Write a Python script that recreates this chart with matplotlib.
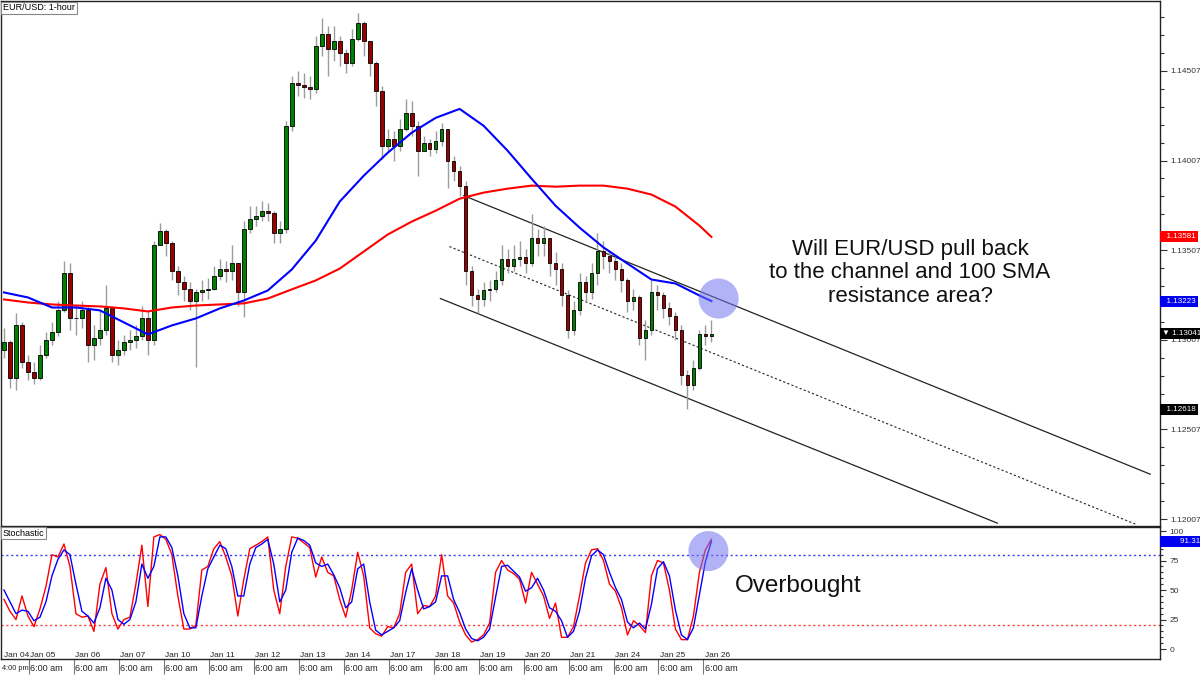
import numpy as np
import matplotlib
matplotlib.use("Agg")
import matplotlib.pyplot as plt
from matplotlib.ticker import FixedLocator, NullFormatter
from matplotlib.transforms import blended_transform_factory

plt.rcParams['font.family'] = ['Liberation Sans', 'DejaVu Sans']

# --- EUR/USD candles (3-hour buckets) ---
first_open = 1.12948
closes = [
    1.12992, 1.12792, 1.13087, 1.12881, 1.12825, 1.12792, 1.12920, 1.13004, 1.13048, 1.13171,
    1.13382, 1.13126, 1.13126, 1.13171, 1.12976, 1.13015, 1.13059, 1.13182, 1.12920, 1.12948,
    1.12992, 1.13004, 1.13026, 1.13126, 1.13004, 1.13533, 1.13616, 1.13549, 1.13393, 1.13327,
    1.13293, 1.13226, 1.13271, 1.13282, 1.13293, 1.13365, 1.13404, 1.13393, 1.13438, 1.13271,
    1.13627, 1.13683, 1.13700, 1.13727, 1.13716, 1.13605, 1.13627, 1.14201, 1.14440, 1.14429,
    1.14418, 1.14407, 1.14646, 1.14713, 1.14630, 1.14674, 1.14607, 1.14552, 1.14685, 1.14774,
    1.14674, 1.14552, 1.14396, 1.14089, 1.14128, 1.14089, 1.14184, 1.14273, 1.14201, 1.14062,
    1.14106, 1.14073, 1.14117, 1.14184, 1.14006, 1.13950, 1.13867, 1.13393, 1.13254, 1.13237,
    1.13282, 1.13293, 1.13338, 1.13460, 1.13421, 1.13460, 1.13471, 1.13438, 1.13572, 1.13549,
    1.13572, 1.13438, 1.13404, 1.13254, 1.13059, 1.13171, 1.13327, 1.13271, 1.13382, 1.13505,
    1.13477, 1.13449, 1.13404, 1.13338, 1.13226, 1.13243, 1.13015, 1.13059, 1.13271, 1.13254,
    1.13182, 1.13137, 1.13059, 1.12809, 1.12753, 1.12847, 1.13037, 1.13026, 1.13041,
]
highs = [
    1.13070, 1.13004, 1.13154, 1.13104, 1.12920, 1.12881, 1.12976, 1.13048, 1.13104, 1.13226,
    1.13449, 1.13438, 1.13198, 1.13226, 1.13198, 1.13087, 1.13171, 1.13310, 1.13198, 1.13004,
    1.13031, 1.13059, 1.13087, 1.13198, 1.13171, 1.13560, 1.13661, 1.13627, 1.13560, 1.13421,
    1.13365, 1.13327, 1.13293, 1.13338, 1.13349, 1.13421, 1.13460, 1.13449, 1.13533, 1.13421,
    1.13672, 1.13755, 1.13755, 1.13783, 1.13772, 1.13727, 1.13672, 1.14229, 1.14479, 1.14507,
    1.14496, 1.14479, 1.14702, 1.14802, 1.14758, 1.14758, 1.14702, 1.14630, 1.14741, 1.14830,
    1.14785, 1.14646, 1.14563, 1.14423, 1.14184, 1.14173, 1.14240, 1.14351, 1.14340, 1.14229,
    1.14145, 1.14128, 1.14173, 1.14217, 1.14145, 1.14034, 1.13978, 1.13894, 1.13421, 1.13293,
    1.13327, 1.13338, 1.13393, 1.13533, 1.13516, 1.13533, 1.13560, 1.13516, 1.13711, 1.13627,
    1.13644, 1.13560, 1.13494, 1.13438, 1.13282, 1.13226, 1.13382, 1.13365, 1.13438, 1.13605,
    1.13560, 1.13505, 1.13477, 1.13438, 1.13349, 1.13293, 1.13254, 1.13115, 1.13338, 1.13310,
    1.13271, 1.13215, 1.13160, 1.13087, 1.12836, 1.12892, 1.13059, 1.13087, 1.13115,
]
lows = [
    1.12903, 1.12736, 1.12725, 1.12847, 1.12781, 1.12758, 1.12781, 1.12903, 1.12976, 1.13026,
    1.13160, 1.13059, 1.13031, 1.13070, 1.12881, 1.12892, 1.12976, 1.13031, 1.12881, 1.12864,
    1.12920, 1.12948, 1.12959, 1.13004, 1.12920, 1.12976, 1.13533, 1.13477, 1.13338, 1.13254,
    1.13226, 1.13171, 1.12853, 1.13226, 1.13237, 1.13282, 1.13338, 1.13327, 1.13338, 1.13198,
    1.13132, 1.13605, 1.13644, 1.13672, 1.13672, 1.13549, 1.13549, 1.13605, 1.14173, 1.14368,
    1.14357, 1.14351, 1.14384, 1.14591, 1.14479, 1.14563, 1.14535, 1.14496, 1.14535, 1.14674,
    1.14591, 1.14479, 1.14312, 1.14017, 1.14062, 1.14006, 1.14062, 1.14173, 1.14145, 1.13922,
    1.14062, 1.14034, 1.14050, 1.14089, 1.13856, 1.13894, 1.13811, 1.13310, 1.13198, 1.13154,
    1.13198, 1.13226, 1.13271, 1.13310, 1.13382, 1.13393, 1.13421, 1.13382, 1.13421, 1.13477,
    1.13477, 1.13365, 1.13310, 1.13198, 1.13015, 1.13031, 1.13143, 1.13226, 1.13237, 1.13310,
    1.13404, 1.13382, 1.13338, 1.13271, 1.13160, 1.13171, 1.12976, 1.12892, 1.13031, 1.13171,
    1.13126, 1.13087, 1.13004, 1.12753, 1.12618, 1.12725, 1.12836, 1.12976, 1.12992,
]

# moving averages, sampled every 4 candles (last point = current value)
sma_bars = [0, 4, 8, 12, 16, 20, 24, 28, 32, 36, 40, 44, 48, 52, 56, 60, 64, 68, 72, 76,
            80, 84, 88, 92, 96, 100, 104, 108, 112, 116, 118]
sma100 = [1.13271, 1.13243, 1.13187, 1.13187, 1.13171, 1.13104, 1.13037, 1.13087, 1.13126, 1.13182,
          1.13226, 1.13282, 1.13399, 1.13560, 1.13778, 1.13922, 1.14050, 1.14162, 1.14245, 1.14295,
          1.14201, 1.14062, 1.13906, 1.13755, 1.13633, 1.13522, 1.13432, 1.13343, 1.13321, 1.13254,
          1.13223]
sma200 = [1.13232, 1.13215, 1.13204, 1.13198, 1.13193, 1.13182, 1.13165, 1.13187, 1.13198, 1.13204,
          1.13210, 1.13237, 1.13288, 1.13338, 1.13404, 1.13499, 1.13594, 1.13666, 1.13727, 1.13794,
          1.13828, 1.13850, 1.13867, 1.13861, 1.13867, 1.13867, 1.13850, 1.13817, 1.13750, 1.13644,
          1.13581]

# descending channel anchors (candle index, price)
channel_upper = [(76.7, 1.13811), (191.2, 1.12257)]
channel_mid = [(74.3, 1.13527), (188.7, 1.11979)]
channel_lower = [(72.8, 1.13237), (165.7, 1.11984)]

# stochastic oscillator
stoch_red = [
    42, 32, 25, 45, 28, 19, 34, 53, 80, 78, 89, 70, 30, 27, 28, 15, 55, 69, 30, 17,
    25, 27, 55, 88, 36, 95, 97, 93, 80, 45, 17, 17, 20, 67, 70, 85, 91, 78, 62, 28,
    59, 85, 88, 91, 95, 50, 30, 70, 95, 94, 90, 86, 61, 78, 65, 62, 42, 27, 50, 82,
    62, 18, 13, 11, 19, 18, 30, 65, 72, 30, 37, 36, 45, 80, 45, 39, 23, 12, 6, 8,
    12, 22, 65, 75, 67, 64, 59, 39, 65, 55, 45, 26, 39, 10, 10, 19, 45, 73, 84, 85,
    75, 55, 49, 35, 12, 24, 20, 14, 62, 75, 73, 50, 17, 8, 8, 28, 65, 84, 93,
]
stoch_blue = [
    50, 40, 30, 33, 32, 24, 27, 40, 62, 76, 84, 80, 55, 32, 28, 22, 35, 60, 50, 25,
    21, 25, 40, 72, 60, 70, 95, 95, 86, 62, 30, 18, 18, 45, 68, 78, 88, 85, 70, 45,
    45, 72, 86, 89, 93, 72, 40, 50, 82, 94, 92, 88, 73, 70, 72, 63, 52, 35, 40, 68,
    72, 40, 16, 12, 15, 18, 24, 48, 68, 50, 34, 36, 40, 62, 62, 42, 31, 17, 9, 7,
    10, 17, 44, 70, 71, 66, 61, 49, 52, 60, 50, 35, 32, 24, 10, 15, 32, 60, 79, 84,
    80, 65, 52, 42, 23, 18, 22, 17, 38, 68, 74, 62, 33, 12, 8, 18, 46, 74, 91.31,
]

price_ticks = [1.12007, 1.12507, 1.13007, 1.13507, 1.14007, 1.14507]
stoch_ticks = [0, 25, 50, 75, 100]
day_labels = ["Jan 05", "Jan 06", "Jan 07", "Jan 10", "Jan 11", "Jan 12", "Jan 13", "Jan 14",
              "Jan 17", "Jan 18", "Jan 19", "Jan 20", "Jan 21", "Jan 24", "Jan 25", "Jan 26"]
time_label = "6:00 am"

# --- layout (pixel based, 1200x675) ---
W, H = 1200, 675
fig = plt.figure(figsize=(12, 6.75), dpi=100)
ax = fig.add_axes([1 / W, 1 - 526 / H, 1159 / W, 525 / H])
axs = fig.add_axes([1 / W, 1 - 659 / H, 1159 / W, 132 / H], sharex=ax)

n = len(closes)
bars = np.arange(n)
o = np.array([first_open] + closes[:-1])
c = np.array(closes)
hi = np.maximum(np.array(highs), np.maximum(o, c))
lo = np.minimum(np.array(lows), np.minimum(o, c))

ax.vlines(bars, lo, hi, colors='#9c9c9c', linewidth=1.0, zorder=2)
body_colors = ['#008000' if cc >= oo else '#9b0000' for oo, cc in zip(o, c)]
ax.bar(bars, c - o, bottom=o, width=0.62, color=body_colors, edgecolor='black',
       linewidth=0.6, zorder=3)

ax.plot(sma_bars, sma200, color='#ff0000', lw=1.5, zorder=4)
ax.plot(sma_bars, sma100, color='#0000ff', lw=1.5, zorder=4)

for pts, ls, lw in [(channel_upper, '-', 0.9), (channel_lower, '-', 0.9), (channel_mid, (0, (2, 2)), 0.8)]:
    xs, ys = zip(*pts)
    ax.plot(xs, ys, color='#222222', lw=lw, ls=ls, zorder=1.5)

# highlight circles
ax.scatter([119.2], [1.13237], s=830, color=(0.45, 0.45, 0.95), alpha=0.55, edgecolors='none', zorder=5)
axs.scatter([117.5], [83], s=830, color=(0.45, 0.45, 0.95), alpha=0.55, edgecolors='none', zorder=5)

ax.set_xlim(-0.5, 192.83)
ax.set_ylim(1.11968, 1.14897)

# right price axis
ax.yaxis.tick_right()
ax.yaxis.set_major_locator(FixedLocator(price_ticks))
ax.yaxis.set_minor_locator(FixedLocator(np.arange(1.12007, 1.1490, 0.001)))
ax.set_yticklabels([f"{t:.5f}" for t in price_ticks])
ax.tick_params(axis='y', which='major', length=5, width=0.8, labelsize=6, pad=2.5, colors='#333333')
ax.tick_params(axis='y', which='minor', length=3, width=0.8, colors='#333333')
ax.tick_params(axis='x', which='both', bottom=False, labelbottom=False)

for a in (ax, axs):
    for sp in a.spines.values():
        sp.set_color('#222222')
        sp.set_linewidth(1.0)

# price tags on the axis
tr = blended_transform_factory(ax.transAxes, ax.transData)
tags = [(1.13581, '  1.13581', '#ff0000'), (1.13223, '  1.13223', '#0000ee'),
        (1.13041, '\u25bc 1.13041', '#000000'), (1.12618, '  1.12618', '#000000')]
for val, txt, col in tags:
    ax.text(1.0 + 2 / 1159, val, txt, transform=tr, color='white', fontsize=5.8,
            va='center', ha='left', clip_on=False, zorder=10,
            bbox=dict(boxstyle='square,pad=0.25', fc=col, ec='none'))

# stochastic panel
xs_st = np.arange(len(stoch_red))
axs.axhline(80, color='#3a3aff', lw=1.0, ls=(0, (1.5, 2)), zorder=1)
axs.axhline(20, color='#ff3a3a', lw=1.0, ls=(0, (1.5, 2)), zorder=1)
axs.plot(xs_st, stoch_red, color='#ff0000', lw=1.0, zorder=3)
axs.plot(xs_st, stoch_blue, color='#0000ff', lw=1.0, zorder=3)
axs.set_ylim(-8.4, 103.4)
axs.yaxis.tick_right()
axs.yaxis.set_major_locator(FixedLocator(stoch_ticks))
axs.yaxis.set_minor_locator(FixedLocator(np.arange(0, 101, 5)))
axs.tick_params(axis='y', which='major', length=4, width=0.8, labelsize=6, pad=3, colors='#333333')
axs.tick_params(axis='y', which='minor', length=2.5, width=0.8, colors='#333333')
trs = blended_transform_factory(axs.transAxes, axs.transData)
axs.text(1.0 + 2 / 1159, 91.31, '        91.31', transform=trs, color='white', fontsize=5.8,
         va='center', ha='left', clip_on=False, zorder=10,
         bbox=dict(boxstyle='square,pad=0.25', fc='#0000ee', ec='none'))

# day separators and time labels
day_ticks = [4.17 + 7.5 * k for k in range(len(day_labels))]
axs.set_xticks(day_ticks)
axs.xaxis.set_major_formatter(NullFormatter())
axs.tick_params(axis='x', which='major', length=11, width=0.8, color='#777777', direction='out')
trx = blended_transform_factory(axs.transData, axs.transAxes)
axs.text(0.0, 0.03, 'Jan 04', transform=trx, fontsize=6, va='center', ha='left', color='#222222')
axs.text(-0.3, -0.07, '4:00 pm', transform=trx, fontsize=5.3, va='center', ha='left', color='#222222',
         clip_on=False)
for xt, lab in zip(day_ticks, day_labels):
    axs.text(xt + 0.2, 0.03, lab, transform=trx, fontsize=6, va='center', ha='left', color='#222222')
    axs.text(xt + 0.2, -0.07, time_label, transform=trx, fontsize=6.5, va='center', ha='left',
             color='#222222', clip_on=False)

# panel captions
box = dict(boxstyle='square,pad=0.2', fc='white', ec='#888888', lw=0.8)
fig.text(3 / W, 1 - 8 / H, 'EUR/USD: 1-hour', fontsize=6.5, va='center', ha='left', bbox=box)
fig.text(3 / W, 1 - 533 / H, 'Stochastic', fontsize=6.5, va='center', ha='left', bbox=box)

# annotations
fig.text(910 / W, 1 - 273 / H, 'Will EUR/USD pull back\nto the channel and 100 SMA\nresistance area?',
         ha='center', va='center', fontsize=16, linespacing=1.18, color='#111111')
fig.text(735 / W, 1 - 586 / H, 'Overbought', ha='left', va='center', fontsize=17.5, color='#111111')

fig.savefig('out.png', dpi=100)
